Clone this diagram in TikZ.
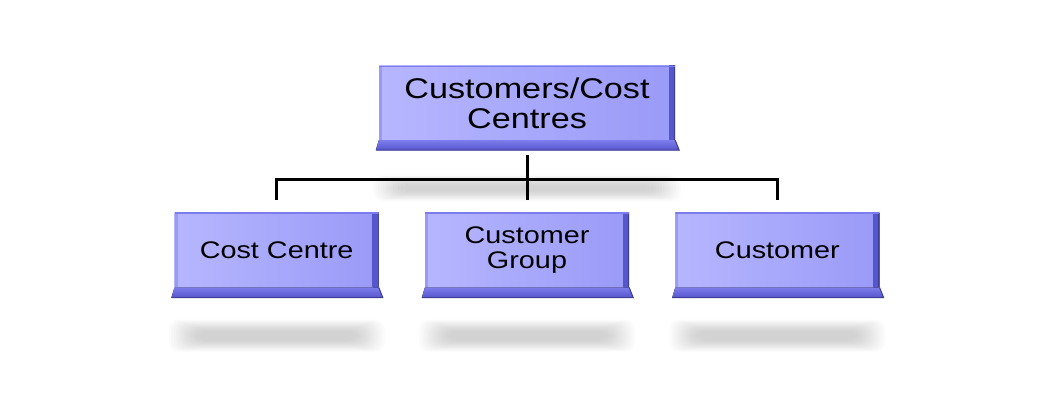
\documentclass[tikz,border=0pt]{standalone}
\usepackage{fontspec}
\newfontfamily\boxfont[FakeStretch=1.2]{Liberation Sans}
\usetikzlibrary{positioning}

\definecolor{facelight}{RGB}{182,182,255}
\definecolor{facedark}{RGB}{154,154,248}
\definecolor{bevellight}{RGB}{124,124,236}
\definecolor{beveldark}{RGB}{86,86,204}
\definecolor{edgedark}{RGB}{62,62,150}

\tikzset{
  face/.style={rectangle, left color=facelight, right color=facedark,
    inner sep=0pt, align=center, text=black,
    path picture={
      \fill[left color=bevellight, right color=beveldark]
        ([xshift=-6pt]path picture bounding box.north east)
        rectangle (path picture bounding box.south east);
      \fill[edgedark] ([xshift=-1pt]path picture bounding box.north east)
        rectangle (path picture bounding box.south east);
      \fill[bevellight!50!facelight] (path picture bounding box.north west)
        rectangle ([xshift=3pt]path picture bounding box.south west);
      \fill[bevellight] (path picture bounding box.north west)
        rectangle ([yshift=-1.5pt]path picture bounding box.north east);
    }},
  topbox/.style={face, minimum width=296pt, minimum height=74pt,
    font=\boxfont\fontsize{28.5}{30}\selectfont},
  subbox/.style={face, minimum width=204pt, minimum height=75pt,
    font=\boxfont\fontsize{24}{25}\selectfont},
  bevel/.style={top color=bevellight, bottom color=beveldark},
  link/.style={line width=3pt, black},
}

\begin{document}
\begin{tikzpicture}[x=1pt, y=1pt]

  \useasboundingbox (0,0) rectangle (1048,402);

  % boxes
  \node[topbox] (root) at (527,299) {Customers/Cost\\Centres};
  \node[subbox, below=72pt of root] (grp) {Customer\\Group};
  \node[subbox, left=46pt of grp] (cc) {Cost Centre};
  \node[subbox, right=46pt of grp] (cu) {Customer};

  % bottom bevels
  \foreach \n in {root,cc,grp,cu} {
    \fill[bevel] (\n.south west) -- (\n.south east) -- ++(4,-10)
      -- ([xshift=-3pt,yshift=-10pt]\n.south west) -- cycle;
    \draw[edgedark, line width=1pt] ([xshift=-3pt,yshift=-10pt]\n.south west)
      -- ([xshift=4pt,yshift=-10pt]\n.south east) -- (\n.south east);
  }

  % reflections
  \foreach \k in {0,...,11} {
    \fill[black, opacity=.014, rounded corners=10pt]
      ([shift={(-154+2.5*\k,-35-0.9*\k)}]root.south)
      rectangle ([shift={(154-2.5*\k,-61+0.9*\k)}]root.south);
    \foreach \n in {cc,grp,cu}
      \fill[black, opacity=.014, rounded corners=10pt]
        ([shift={(-108+2.5*\k,-32-1*\k)}]\n.south)
        rectangle ([shift={(108-2.5*\k,-64+1*\k)}]\n.south);
  }

  % connectors
  \draw[link] ([yshift=-15pt]root.south) -- ([yshift=12pt]grp.north);
  \draw[link] ([yshift=12pt]cc.north) |- ([yshift=33pt]grp.north)
    -| ([yshift=12pt]cu.north);

\end{tikzpicture}
\end{document}
